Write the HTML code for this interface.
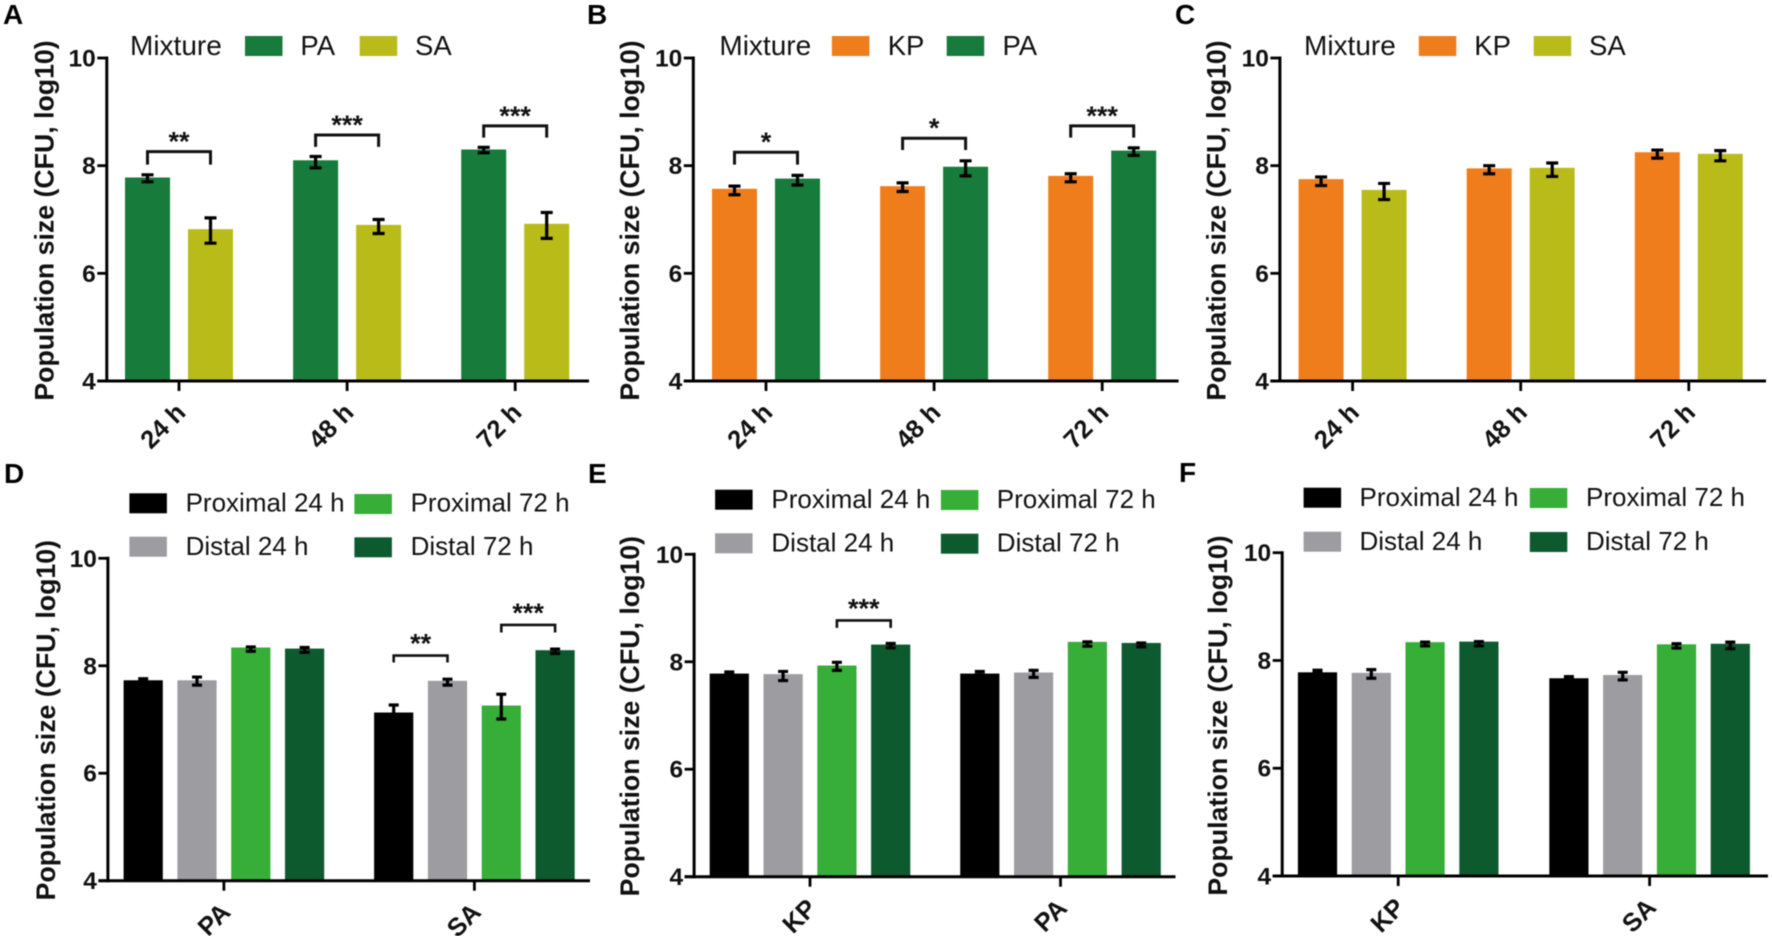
<!DOCTYPE html>
<html lang="en">
<head>
<meta charset="utf-8">
<title>Population size by mixture and time</title>
<style>
html,body{margin:0;padding:0;background:#fff;width:1772px;height:936px;overflow:hidden}
svg{display:block;filter:blur(0.5px)}
text{font-family:"Liberation Sans",Arial,sans-serif;fill:#111}
</style>
</head>
<body>
<svg id="figure" xmlns="http://www.w3.org/2000/svg" width="1772" height="936" viewBox="0 0 1772 936"></svg>
<script>
// ---- shared values ----
const yTicks = [4, 6, 8, 10];
const timeCategories = ['24 h', '48 h', '72 h'];

// ---- panel A ----
const aSeries = ['PA', 'SA'];
const aPA = [7.78, 8.10, 8.30];
const aPAHigh = [7.83, 8.17, 8.34];
const aPALow = [7.70, 7.96, 8.24];
const aSA = [6.82, 6.90, 6.92];
const aSAHigh = [7.03, 7.00, 7.13];
const aSALow = [6.56, 6.74, 6.65];
const aSigGroup = [0, 1, 2];
const aSigTop = [8.26, 8.57, 8.74];
const aSigLeg = [8.02, 8.35, 8.52];
const aSigLabel = ['**', '***', '***'];

// ---- panel B ----
const bSeries = ['KP', 'PA'];
const bKP = [7.57, 7.62, 7.81];
const bKPHigh = [7.62, 7.68, 7.85];
const bKPLow = [7.46, 7.52, 7.70];
const bPA = [7.76, 7.98, 8.28];
const bPAHigh = [7.82, 8.09, 8.33];
const bPALow = [7.64, 7.81, 8.19];
const bSigGroup = [0, 1, 2];
const bSigTop = [8.25, 8.51, 8.74];
const bSigLeg = [8.02, 8.29, 8.52];
const bSigLabel = ['*', '*', '***'];

// ---- panel C ----
const cSeries = ['KP', 'SA'];
const cKP = [7.75, 7.95, 8.25];
const cKPHigh = [7.79, 8.00, 8.29];
const cKPLow = [7.63, 7.85, 8.14];
const cSA = [7.55, 7.96, 8.22];
const cSAHigh = [7.67, 8.05, 8.28];
const cSALow = [7.37, 7.80, 8.09];

// ---- lower panels: legend series ----
const siteSeries = ['Proximal 24 h', 'Distal 24 h', 'Proximal 72 h', 'Distal 72 h'];

// ---- panel D ----
const dCategories = ['PA', 'SA'];
const dProx24 = [7.73, 7.13];
const dProx24High = [7.76, 7.27];
const dProx24Low = [7.71, 7.00];
const dDist24 = [7.73, 7.72];
const dDist24High = [7.79, 7.75];
const dDist24Low = [7.64, 7.64];
const dProx72 = [8.34, 7.26];
const dProx72High = [8.35, 7.47];
const dProx72Low = [8.27, 7.01];
const dDist72 = [8.32, 8.29];
const dDist72High = [8.34, 8.31];
const dDist72Low = [8.25, 8.23];
const dSigGroup = [1, 1];
const dSigFrom = [0, 2];
const dSigTo = [1, 3];
const dSigTop = [8.19, 8.76];
const dSigLeg = [8.06, 8.62];
const dSigLabel = ['**', '***'];

// ---- panel E ----
const eCategories = ['KP', 'PA'];
const eProx24 = [7.78, 7.78];
const eProx24High = [7.81, 7.82];
const eProx24Low = [7.76, 7.76];
const eDist24 = [7.77, 7.80];
const eDist24High = [7.82, 7.84];
const eDist24Low = [7.65, 7.71];
const eProx72 = [7.93, 8.37];
const eProx72High = [7.99, 8.37];
const eProx72Low = [7.84, 8.29];
const eDist72 = [8.32, 8.35];
const eDist72High = [8.34, 8.35];
const eDist72Low = [8.26, 8.28];
const eSigGroup = [0];
const eSigFrom = [2];
const eSigTo = [3];
const eSigTop = [8.77];
const eSigLeg = [8.63];
const eSigLabel = ['***'];

// ---- panel F ----
const fCategories = ['KP', 'SA'];
const fProx24 = [7.78, 7.67];
const fProx24High = [7.82, 7.70];
const fProx24Low = [7.76, 7.65];
const fDist24 = [7.77, 7.73];
const fDist24High = [7.83, 7.78];
const fDist24Low = [7.67, 7.64];
const fProx72 = [8.34, 8.30];
const fProx72High = [8.34, 8.31];
const fProx72Low = [8.27, 8.23];
const fDist72 = [8.35, 8.31];
const fDist72High = [8.35, 8.34];
const fDist72Low = [8.27, 8.22];

// ---- styling and layout (not data) ----
const colorOf = {PA:'#177b3c', SA:'#b8bb18', KP:'#ef7d1c',
  'Proximal 24 h':'#000000', 'Distal 24 h':'#9d9ca1', 'Proximal 72 h':'#36ae37', 'Distal 72 h':'#0d5a2f'};

const NS = 'http://www.w3.org/2000/svg';
const root = document.getElementById('figure');

function make(tag, parent, attrs, txt) {
  const n = document.createElementNS(NS, tag);
  for (const k in attrs) n.setAttribute(k, attrs[k]);
  if (txt !== undefined) n.textContent = txt;
  parent.appendChild(n);
  return n;
}
function slug(s) { return String(s).toLowerCase().replace(/[^a-z0-9]+/g, '-'); }

function drawPanel(p) {
  const g = make('g', root, {});
  
  

  const yScale = v => p.y4 - (v - 4) * (p.y4 - p.y10) / 6;
  const groupX = i => p.x0 + i * p.step;
  const barX = (i, s) => groupX(i) + (s - (p.series.length - 1) / 2) * p.barStep;

  const letter = make('text', g, {x:p.letterX, y:p.letterY, 'font-size':28, 'font-weight':700, style:'fill:#000'}, p.letter);
  
  

  // bars
  p.series.forEach((name, s) => {
    p.categories.forEach((cat, i) => {
      const top = yScale(p.means[s][i]);
      const bar = make('rect', g, {x:barX(i, s) - p.barW / 2, y:top, width:p.barW, height:p.y4 - top, fill:colorOf[name]});
      
      
    });
  });

  // error bars
  p.series.forEach((name, s) => {
    p.categories.forEach((cat, i) => {
      const cx = barX(i, s), yh = yScale(p.high[s][i]), yl = yScale(p.low[s][i]);
      const d = 'M' + (cx - p.cap) + ' ' + yh + 'H' + (cx + p.cap) + 'M' + cx + ' ' + yh + 'V' + yl + 'M' + (cx - p.cap) + ' ' + yl + 'H' + (cx + p.cap);
      const err = make('path', g, {d:d, stroke:'#000', 'stroke-width':3.2, fill:'none'});
      
      
    });
  });

  // significance brackets
  (p.sig ? p.sig.group : []).forEach((grp, k) => {
    const from = p.sig.from ? p.sig.from[k] : 0;
    const to = p.sig.to ? p.sig.to[k] : 1;
    const x1 = barX(grp, from), x2 = barX(grp, to), yt = yScale(p.sig.top[k]), yb = yScale(p.sig.leg[k]);
    const br = make('path', g, {d:'M' + x1 + ' ' + yb + 'V' + yt + 'H' + x2 + 'V' + yb, stroke:'#111', 'stroke-width':p.brW, fill:'none'});
    
    
    const st = make('text', g, {x:(x1 + x2) / 2, y:yt - p.starUp + 13, 'font-size':27, 'font-weight':700, 'text-anchor':'middle'}, p.sig.label[k]);
    
    
  });

  // y axis
  const yAxis = make('line', g, {x1:p.axisX, x2:p.axisX, y1:p.y10 - 1.5, y2:p.y4 + 1.5, stroke:'#000', 'stroke-width':3});
  
  
  yTicks.forEach(t => {
    const y = yScale(t);
    const tick = make('line', g, {x1:p.axisX - 9.5, x2:p.axisX, y1:y, y2:y, stroke:'#000', 'stroke-width':2.8});
    
    
    const lab = make('text', g, {x:p.axisX - 11, y:y + 8.5, 'font-size':24.5, 'font-weight':700, 'text-anchor':'end'}, t);
    
    
  });
  const cy = p.y4 - 160.5;
  const title = make('text', g, {transform:'translate(' + p.titleX + ',' + cy + ') rotate(-90)', 'font-size':26.7, 'font-weight':700, 'text-anchor':'middle'}, 'Population size (CFU, log10)');
  
  

  // x axis
  const xAxis = make('line', g, {x1:p.axisX - 9.5, x2:p.xEnd, y1:p.y4, y2:p.y4, stroke:'#000', 'stroke-width':3});
  
  
  p.categories.forEach((cat, i) => {
    const x = groupX(i);
    const tick = make('line', g, {x1:x, x2:x, y1:p.y4, y2:p.y4 + 10, stroke:'#000', 'stroke-width':2.8});
    
    
    const lab = make('text', g, {transform:'translate(' + (x + 8) + ',' + (p.y4 + 33) + ') rotate(-45)', 'font-size':25.5, 'font-weight':700, 'text-anchor':'end'}, cat);
    
    
  });

  // legend
  if (p.legendTitle) {
    const lt = make('text', g, {x:p.legendTitle[0], y:p.legendTitle[1], 'font-size':28}, 'Mixture');
    
    
  }
  p.series.forEach((name, s) => {
    const pos = p.legend[s];
    const sw = make('rect', g, {x:pos[0], y:pos[1], width:37.5, height:20, fill:colorOf[name]});
    
    
    const tx = make('text', g, {x:pos[2], y:pos[3], 'font-size':p.legendTitle ? 27.5 : 26}, name);
    
    
  });
}

const topBase = {categories:timeCategories, y10:58, y4:381, barW:45, barStep:63, cap:6, step:168.1, brW:3, starUp:14, titleX:53.5};
const lowBase = {barW:39.2, barStep:53.8, cap:5, step:250.5, brW:2.6, starUp:16};

drawPanel(Object.assign({}, topBase, {
  letter:'A', letterX:3, letterY:24, axisX:106.8, xEnd:589, x0:179,
  series:aSeries, means:[aPA, aSA], high:[aPAHigh, aSAHigh], low:[aPALow, aSALow],
  sig:{group:aSigGroup, top:aSigTop, leg:aSigLeg, label:aSigLabel},
  legendTitle:[130, 55], legend:[[245, 36, 300.4, 55], [359.7, 36, 415, 55]]
}));
drawPanel(Object.assign({}, topBase, {
  letter:'B', letterX:587, letterY:24, axisX:693.3, xEnd:1178.6, x0:766, titleX:590 + 49,
  series:bSeries, means:[bKP, bPA], high:[bKPHigh, bPAHigh], low:[bKPLow, bPALow],
  sig:{group:bSigGroup, top:bSigTop, leg:bSigLeg, label:bSigLabel},
  legendTitle:[719.4, 55], legend:[[831.9, 36, 887.7, 55], [946.7, 36, 1002.5, 55]]
}));
drawPanel(Object.assign({}, topBase, {
  letter:'C', letterX:1175, letterY:24, axisX:1279.9, xEnd:1766, x0:1352.6, titleX:1172 + 53.5,
  series:cSeries, means:[cKP, cSA], high:[cKPHigh, cSAHigh], low:[cKPLow, cSALow],
  legendTitle:[1304, 55], legend:[[1418.8, 36, 1474.3, 55], [1533.7, 36, 1589, 55]]
}));
drawPanel(Object.assign({}, lowBase, {
  letter:'D', letterX:4, letterY:483, axisX:107.9, xEnd:590, x0:223.9, y10:558.3, y4:880.7, titleX:55,
  categories:dCategories, series:siteSeries,
  means:[dProx24, dDist24, dProx72, dDist72],
  high:[dProx24High, dDist24High, dProx72High, dDist72High],
  low:[dProx24Low, dDist24Low, dProx72Low, dDist72Low],
  sig:{group:dSigGroup, from:dSigFrom, to:dSigTo, top:dSigTop, leg:dSigLeg, label:dSigLabel},
  legend:[[129.4, 493.3, 185.6, 511.7], [129.4, 536.7, 185.6, 555], [354.4, 494, 410.6, 511.7], [354.4, 537.3, 410.6, 555]]
}));
drawPanel(Object.assign({}, lowBase, {
  letter:'E', letterX:588, letterY:483, axisX:694.1, xEnd:1175.5, x0:810, y10:554.3, y4:876.7, titleX:590 + 49,
  categories:eCategories, series:siteSeries,
  means:[eProx24, eDist24, eProx72, eDist72],
  high:[eProx24High, eDist24High, eProx72High, eDist72High],
  low:[eProx24Low, eDist24Low, eProx72Low, eDist72Low],
  sig:{group:eSigGroup, from:eSigFrom, to:eSigTo, top:eSigTop, leg:eSigLeg, label:eSigLabel},
  legend:[[715.1, 489.7, 771.4, 508], [715.1, 533.3, 771.4, 551.3], [940.9, 490, 996.8, 508], [940.9, 533.7, 996.8, 551.3]]
}));
drawPanel(Object.assign({}, lowBase, {
  letter:'F', letterX:1179, letterY:482, axisX:1282.2, xEnd:1768, x0:1398.2, step:251.4, y10:552.7, y4:876, titleX:1172 + 55,
  categories:fCategories, series:siteSeries,
  means:[fProx24, fDist24, fProx72, fDist72],
  high:[fProx24High, fDist24High, fProx72High, fDist72High],
  low:[fProx24Low, fDist24Low, fProx72Low, fDist72Low],
  legend:[[1303.6, 487.7, 1359.5, 506], [1303.6, 531.7, 1359.5, 550], [1529.8, 488, 1586, 506], [1529.8, 532, 1586, 550]]
}));
</script>
</body>
</html>
